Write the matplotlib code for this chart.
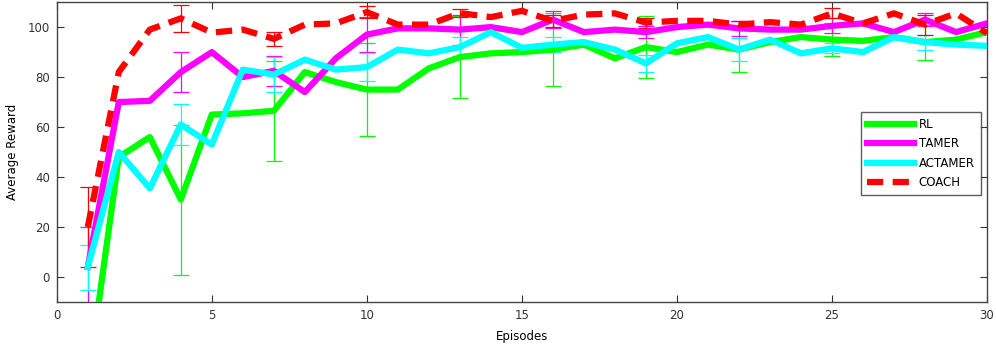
import numpy as np
import matplotlib
matplotlib.use("Agg")
import matplotlib.pyplot as plt

episodes = list(range(1, 31))
rl = [-42, 48, 56, 31, 65, 65.5, 66.5, 82, 78, 75, 75, 83.5, 88, 89.5, 90, 91, 93, 87.5, 92, 90,
      93, 91, 94, 96, 95, 94.5, 96, 94, 95, 98]
tamer = [4, 70, 70.5, 82, 90, 80, 82.5, 74, 87.5, 97, 99.5, 99.5, 99, 100, 98, 103, 98, 99, 98, 100,
         101, 99.5, 99, 99, 100.5, 101.5, 98, 103, 98, 101.5]
actamer = [4, 50, 35.5, 61, 53, 83, 81, 87, 83, 84, 91, 89.5, 92, 98, 91.7, 93, 94, 91, 85.5, 93.5,
           96, 91, 95, 89.5, 91.5, 90, 96, 94, 93, 92.5]
coach = [20, 82, 99, 103.5, 97.8, 99, 95.3, 101, 101.5, 106, 101, 101, 105.6, 104, 106.5, 102.5, 105,
         105.5, 101.8, 102.5, 102.5, 101, 102, 101, 105.5, 101.5, 105.5, 101, 105.5, 97.5]

err_episodes = [1, 4, 7, 10, 13, 16, 19, 22, 25, 28]
rl_err = [30, 30, 20, 18.5, 16.5, 14.5, 12.5, 9, 6.5, 7]
tamer_err = [16, 8, 6, 7, 6, 3.5, 2.5, 3, 3, 2.5]
actamer_err = [9, 8.3, 7, 5.6, 4, 3, 3.5, 4.5, 2, 3]
coach_err = [16, 5.5, 2.7, 2.3, 1.5, 2.5, 2, 1.5, 2, 4]

series = [
    ("RL", rl, rl_err, (0, 1, 0)),
    ("TAMER", tamer, tamer_err, (1, 0, 1)),
    ("ACTAMER", actamer, actamer_err, (0, 1, 1)),
    ("COACH", coach, coach_err, (1, 0, 0)),
]

fig = plt.figure(figsize=(9.96, 3.52), dpi=100)
ax = fig.add_axes([0.057, 0.142, 0.934, 0.852])

for name, vals, errs, col in series:
    idx = [episodes.index(e) for e in err_episodes]
    ax.errorbar(err_episodes, [vals[i] for i in idx], yerr=errs, fmt="none",
                ecolor=col, elinewidth=0.9, capsize=6, capthick=0.9, zorder=2)

for name, vals, errs, col in series:
    if name == "COACH":
        ax.plot(episodes, vals, color=col, lw=4.5, dashes=(2.6, 1.5), label=name, zorder=3)
    else:
        ax.plot(episodes, vals, color=col, lw=4.5, label=name, zorder=3)

ax.set_xlim(0, 30)
ax.set_ylim(-10, 110)
ax.set_xticks([0, 5, 10, 15, 20, 25, 30])
ax.set_yticks([0, 20, 40, 60, 80, 100])
ax.tick_params(direction="in", top=True, right=True, length=5, width=0.8,
               labelsize=8.5, colors="#333333", pad=5)
for s in ax.spines.values():
    s.set_color("#444444")
    s.set_linewidth(1.0)
ax.set_xlabel("Episodes", fontsize=8.5, labelpad=6)
ax.set_ylabel("Average Reward", fontsize=8.5, labelpad=6)

leg = ax.legend(loc="center right", bbox_to_anchor=(0.9995, 0.495), fontsize=8.5,
                frameon=True, fancybox=False, handlelength=4.0, borderpad=0.5,
                labelspacing=0.55, handletextpad=0.4)
leg.get_frame().set_edgecolor("#333333")
leg.get_frame().set_linewidth(1.0)

fig.savefig("out.png", dpi=100)
